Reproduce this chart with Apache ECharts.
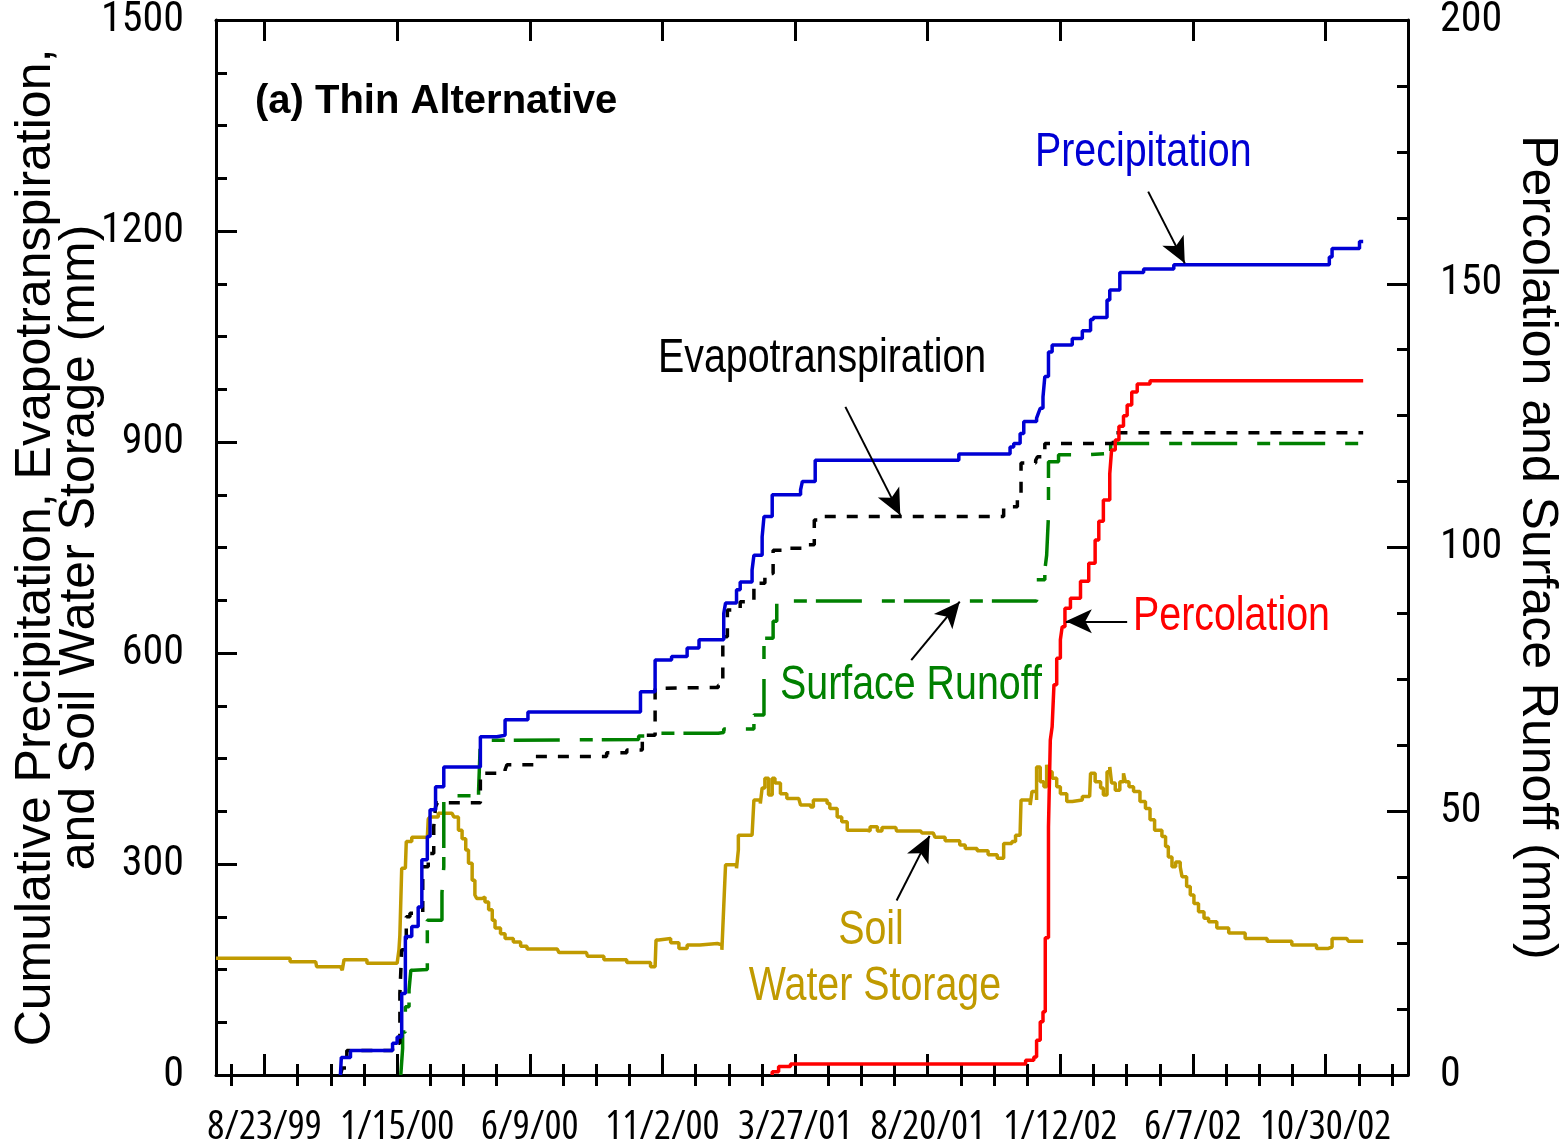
<!DOCTYPE html>
<html>
<head>
<meta charset="utf-8">
<script src="https://cdn.jsdelivr.net/npm/echarts@6/dist/echarts.min.js"></script>
<style>
  html, body { margin: 0; padding: 0; background: #fff; }
  #chart { width: 1560px; height: 1148px; }
</style>
</head>
<body>
<div id="chart"></div>
<script>
// x values are days since 8/23/1999
const xTickDays = [0, 145, 290, 435, 580, 725, 870, 1015, 1160];
const xTickLabels = ['8/23/99', '1/15/00', '6/9/00', '11/2/00', '3/27/01', '8/20/01', '1/12/02', '6/7/02', '10/30/02'];
const xMinorDays = [-36.25, 36.25, 72.5, 108.75, 181.25, 217.5, 253.75, 326.25, 362.5, 398.75, 471.25, 507.5, 543.75,
  616.25, 652.5, 688.75, 761.25, 797.5, 833.75, 906.25, 942.5, 978.75, 1051.25, 1087.5, 1123.75, 1196.25, 1232.5];

const precipitation = [[83,0],[84,25],[94,35],[140,45],[145,54],[150,116],[154,164],[154,197],[161,211],[168,239],[172,306],[178,339],[181,377],[187,410],[196,438],[236,481],[254,483],[263,505],[288,516],[411,545],[427,590],[445,595],[462,607],[475,619],[502,656],[504,671],[516,690],[520,701],[533,718],[535,739],[544,765],[546,794],[555,825],[586,832],[588,844],[602,874],[759,883],[815,893],[819,898],[826,912],[830,929],[844,934],[846,941],[848,948],[851,964],[853,993],[857,1028],[861,1038],[883,1047],[894,1058],[903,1074],[906,1077],[921,1102],[924,1116],[935,1141],[961,1146],[994,1152],[1164,1163],[1167,1175],[1197,1185],[1201,1185]];

const evapotranspiration = [[83,0],[85,10],[90,35],[140,45],[148,116],[150,178],[155,225],[159,230],[173,239],[173,296],[179,315],[185,353],[187,381],[189,387],[236,391],[236,429],[263,434],[265,441],[294,453],[374,458],[396,462],[413,469],[413,483],[427,498],[427,550],[437,551],[496,554],[501,571],[501,623],[506,661],[520,673],[535,699],[547,713],[556,746],[567,749],[593,754],[601,789],[611,794],[808,808],[823,822],[827,870],[843,874],[845,879],[853,898],[928,898],[928,913],[1201,913]];

const surfaceRunoff = [[149,0],[151,38],[151,61],[154,78],[154,97],[158,121],[160,149],[163,150],[178,164],[178,220],[194,220],[194,259],[196,296],[196,397],[234,403],[236,476],[261,477],[409,482],[425,486],[496,487],[502,492],[535,492],[535,512],[546,545],[546,621],[556,621],[556,645],[560,674],[830,674],[844,704],[853,718],[855,739],[857,796],[857,872],[868,882],[900,884],[925,898],[1201,898]];

const percolation = [[555,0],[555,0.6],[562,1.6],[575,2.1],[832,2.2],[832,2.8],[841,3.4],[844,6.6],[848,10.1],[851,12],[853.5,26],[857,47],[859,63.5],[861,66],[863,74],[866,79],[870,82.5],[872,85],[875,88.5],[881,90.4],[892,93.6],[901,97],[908,101.4],[912,105],[917,109],[924,110],[924,114],[926,118.5],[930,120.4],[934,123],[939,125],[943,127],[948,129.5],[954,131],[968,131.6],[1201,131.6]];

const soilWaterStorage = [[-53,166],[23,166],[28,161],[56,159],[57,154],[83,154],[85,149],[87,164],[112,159],[145,159],[147,178],[148,199],[150,294],[154,296],[155,332],[161,338],[178,338],[179,364],[181,367],[190,372],[205,372],[207,367],[212,348],[216,336],[220,320],[223,301],[227,277],[230,256],[232,251],[238,253],[241,246],[245,235],[249,220],[252,209],[258,201],[263,194],[272,189],[280,183],[287,179],[320,178],[322,174],[352,174],[353,169],[371,164],[396,160],[422,154],[427,154],[428,192],[431,194],[444,188],[453,180],[462,185],[476,187],[495,185],[500,178],[502,239],[504,299],[516,294],[518,320],[518,341],[533,341],[535,391],[542,386],[544,408],[547,422],[551,398],[555,422],[558,415],[564,400],[571,393],[584,391],[586,384],[597,381],[600,391],[608,391],[615,386],[618,379],[626,367],[631,360],[637,348],[659,347],[662,353],[670,347],[675,352],[690,352],[691,347],[717,347],[719,344],[731,343],[733,338],[744,333],[760,327],[766,322],[779,319],[791,313],[801,308],[808,329],[817,332],[821,341],[826,344],[827,391],[833,391],[837,384],[839,403],[844,391],[844,438],[848,417],[852,410],[855,441],[857,431],[861,422],[866,410],[870,400],[877,389],[883,391],[894,396],[902,398],[903,429],[908,417],[914,408],[917,398],[921,431],[924,438],[926,415],[930,405],[935,417],[939,429],[941,417],[945,410],[950,403],[957,389],[963,379],[968,363],[973,348],[981,339],[985,325],[988,310],[992,296],[996,303],[1001,296],[1003,282],[1008,268],[1012,256],[1016,244],[1021,232],[1027,223],[1032,218],[1041,209],[1054,202],[1072,194],[1096,190],[1123,185],[1150,180],[1163,182],[1167,194],[1183,193],[1185,190],[1201,190]];

// annotation arrows: [from, to] in (day, left-axis value)
const arrows = [
  [[966, 1256], [1006, 1154]],
  [[635, 950], [695, 796]],
  [[707, 590], [760, 673]],
  [[943, 645], [876, 645]],
  [[691, 248], [727, 340]]
];

const REG = '"Liberation Sans",Arial,Helvetica,sans-serif';
const NARROW_X = 0.82;
const X_MIN = -53, X_MAX = 1250;

const chart = echarts.init(document.getElementById('chart'), null, { renderer: 'canvas' });

function xAxisBase(extra) {
  return Object.assign({
    type: 'value', min: X_MIN, max: X_MAX, gridIndex: 0,
    splitLine: { show: false },
    axisLine: { show: false },
    axisLabel: { show: false },
    axisTick: { show: false }
  }, extra);
}

const lineCommon = { type: 'line', step: 'end', showSymbol: false, symbol: 'none', animation: false, silent: true };
const yLabelStyle = { color: '#000', fontFamily: 'Roboto', fontStyle: 'condensed', fontSize: 42, margin: 32,
  padding: [5, 0, 0, 0],
  formatter: function (v) { return String(v); } };

const option = {
  animation: false,
  backgroundColor: '#ffffff',
  grid: { left: 216, right: 152, top: 20, bottom: 73, containLabel: false, outerBoundsMode: 'none', show: false },
  xAxis: [
    xAxisBase({
      position: 'bottom',
      axisLine: { show: true, onZero: false, lineStyle: { color: '#000', width: 3 } },
      axisTick: { show: true, inside: true, length: 21, customValues: xTickDays, lineStyle: { color: '#000', width: 3 } },
      axisLabel: {
        show: true, customValues: xTickDays, margin: 33, color: '#000', hideOverlap: false,
        fontFamily: '"Open Sans"', fontStyle: 'condensed', fontSize: 40,
        formatter: function (v) { const i = xTickDays.indexOf(v); return i >= 0 ? xTickLabels[i] : ''; }
      }
    }),
    xAxisBase({
      position: 'bottom',
      axisTick: { show: true, inside: true, length: 11, customValues: xMinorDays, lineStyle: { color: '#000', width: 3 } }
    }),
    xAxisBase({
      position: 'top',
      axisLine: { show: true, onZero: false, lineStyle: { color: '#000', width: 3 } },
      axisTick: { show: true, inside: true, length: 21, customValues: xTickDays, lineStyle: { color: '#000', width: 3 } }
    }),
    xAxisBase({
      position: 'top',
      axisTick: { show: true, inside: true, length: 11, customValues: xMinorDays, lineStyle: { color: '#000', width: 3 } }
    })
  ],
  yAxis: [
    {
      type: 'value', min: 0, max: 1500, interval: 300, position: 'left',
      name: 'Cumulative Precipitation, Evapotranspiration,\nand Soil Water Storage (mm)',
      nameLocation: 'middle', nameRotate: 90, nameGap: 114, nameMoveOverlap: false,
      nameTextStyle: { fontFamily: REG, fontSize: 50, color: '#000', lineHeight: 44 },
      splitLine: { show: false },
      axisLine: { show: true, onZero: false, lineStyle: { color: '#000', width: 3 } },
      axisTick: { show: true, inside: true, length: 21, lineStyle: { color: '#000', width: 3 } },
      minorTick: { show: true, splitNumber: 4, length: 11, lineStyle: { color: '#000', width: 3 } },
      minorSplitLine: { show: false },
      axisLabel: yLabelStyle
    },
    {
      type: 'value', min: 0, max: 200, interval: 50, position: 'right',
      name: 'Percolation and Surface Runoff (mm)',
      nameLocation: 'middle', nameRotate: -90, nameGap: 104, nameMoveOverlap: false,
      nameTextStyle: { fontFamily: REG, fontSize: 50, color: '#000' },
      splitLine: { show: false },
      axisLine: { show: true, onZero: false, lineStyle: { color: '#000', width: 3 } },
      axisTick: { show: true, inside: true, length: 21, lineStyle: { color: '#000', width: 3 } },
      minorTick: { show: true, splitNumber: 4, length: 11, lineStyle: { color: '#000', width: 3 } },
      minorSplitLine: { show: false },
      axisLabel: yLabelStyle
    }
  ],
  series: [
    Object.assign({}, lineCommon, {
      name: 'Soil Water Storage', data: soilWaterStorage, xAxisIndex: 0, yAxisIndex: 0,
      lineStyle: { color: '#c09a00', width: 3.5 }
    }),
    Object.assign({}, lineCommon, {
      name: 'Surface Runoff', data: surfaceRunoff, xAxisIndex: 0, yAxisIndex: 0,
      lineStyle: { color: '#008000', width: 3.5, type: [46, 20, 13, 9] }
    }),
    Object.assign({}, lineCommon, {
      name: 'Evapotranspiration', data: evapotranspiration, xAxisIndex: 0, yAxisIndex: 0,
      lineStyle: { color: '#000000', width: 3.5, type: [11, 11] }
    }),
    Object.assign({}, lineCommon, {
      name: 'Precipitation', data: precipitation, xAxisIndex: 0, yAxisIndex: 0,
      lineStyle: { color: '#0000d4', width: 3.5 },
      markLine: {
        silent: true, animation: false,
        symbol: ['none', 'arrow'], symbolSize: [18, 26],
        label: { show: false },
        lineStyle: { color: '#000', width: 2, type: 'solid' },
        data: arrows.map(a => [{ coord: a[0] }, { coord: a[1] }])
      }
    }),
    Object.assign({}, lineCommon, {
      name: 'Percolation', data: percolation, xAxisIndex: 0, yAxisIndex: 1,
      lineStyle: { color: '#ff0000', width: 3.5 }
    })
  ],
  graphic: [
    { type: 'text', left: 255, top: 82, style: { text: '(a) Thin Alternative', fontFamily: REG, fontWeight: 'bold', fontSize: 40, fill: '#000' } },
    { type: 'text', x: 1035, y: 153, scaleX: NARROW_X, style: { text: 'Precipitation', fontFamily: REG, fontSize: 48, fill: '#0000d4', verticalAlign: 'middle' } },
    { type: 'text', x: 658, y: 359, scaleX: NARROW_X, style: { text: 'Evapotranspiration', fontFamily: REG, fontSize: 48, fill: '#000', verticalAlign: 'middle' } },
    { type: 'text', x: 780, y: 686, scaleX: NARROW_X, style: { text: 'Surface Runoff', fontFamily: REG, fontSize: 48, fill: '#008000', verticalAlign: 'middle' } },
    { type: 'text', x: 1133, y: 617, scaleX: NARROW_X, style: { text: 'Percolation', fontFamily: REG, fontSize: 48, fill: '#ff0000', verticalAlign: 'middle' } },
    { type: 'text', x: 871, y: 931, scaleX: NARROW_X, style: { text: 'Soil', fontFamily: REG, fontSize: 48, fill: '#c09a00', align: 'center', verticalAlign: 'middle' } },
    { type: 'text', x: 875, y: 987, scaleX: NARROW_X, style: { text: 'Water Storage', fontFamily: REG, fontSize: 48, fill: '#c09a00', align: 'center', verticalAlign: 'middle' } }
  ]
};

chart.setOption(option);
</script>
</body>
</html>
